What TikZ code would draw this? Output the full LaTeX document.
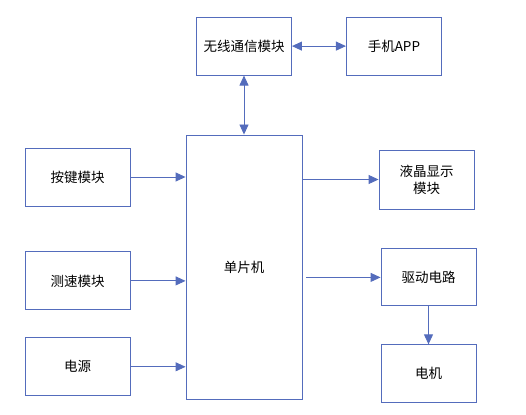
\documentclass[tikz,border=0pt]{standalone}
\usepackage{fontspec}
\setmainfont{Noto Sans CJK SC}
\usepackage{tikz}
\usetikzlibrary{positioning}
\usetikzlibrary{arrows.meta}

\definecolor{boxblue}{RGB}{84,108,188}

\tikzset{
    block/.style={draw=boxblue, line width=0.9pt, minimum width=95pt, minimum height=58pt,
        inner sep=2pt, align=center, font=\fontsize{13.5}{17}\selectfont},
    link/.style={draw=boxblue, line width=0.9pt, -{Triangle[length=10pt,width=9pt]}},
    duplex/.style={draw=boxblue, line width=0.9pt, {Triangle[length=10pt,width=9pt]}-{Triangle[length=10pt,width=9pt]}}
}

\begin{document}
\begin{tikzpicture}[x=1pt, y=-1pt]
    \useasboundingbox (0,0) rectangle (526,414);

    % controller in the middle
    \node [block, minimum width=116pt, minimum height=264pt] (mcu) at (244,267) {单片机};
    \node [block, above=59pt of mcu] (wireless) {无线通信模块};
    \node [block, right=54pt of wireless] (app) {手机APP};

    % inputs
    \node [block, minimum width=105pt] (keys) at (77.5,177) {按键模块};
    \node [block, minimum width=105pt, below=45pt of keys] (speed) {测速模块};
    \node [block, minimum width=105pt, below=27pt of speed] (power) {电源};

    % outputs
    \node [block, minimum height=59pt] (lcd) at (426.5,179.5) {液晶显示\\模块};
    \node [block, minimum height=57pt, below=39pt of lcd, xshift=2pt] (driver) {驱动电路};
    \node [block, below=38pt of driver] (motor) {电机};

    \draw [duplex] (wireless) -- (app);
    \draw [duplex] (wireless.south) -- (mcu.north -| wireless.south);

    \draw [link] (keys.east) -- (mcu.west |- keys.east);
    \draw [link] (speed.east) -- (mcu.west |- speed.east);
    \draw [link] (power.east) -- (mcu.west |- power.east);

    \draw [link] ([xshift=1pt]mcu.east |- lcd.west) -- (lcd.west);
    \draw [link] ([xshift=4pt]mcu.east |- driver.west) -- (driver.west);
    \draw [link] (driver) -- (motor);
\end{tikzpicture}
\end{document}
